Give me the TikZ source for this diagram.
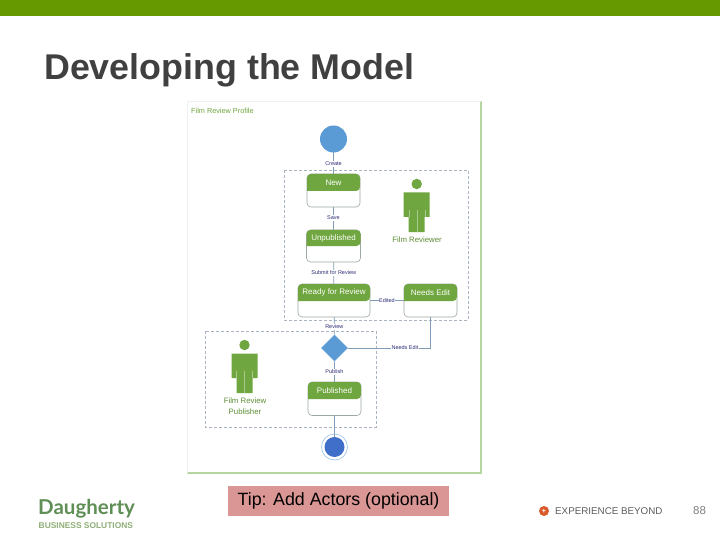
\documentclass[tikz,border=0pt]{standalone}
\usepackage{fontspec}
\setmainfont{Liberation Sans}
\newfontfamily\lato{Lato}
\usetikzlibrary{shapes.geometric}
\definecolor{topbar}{HTML}{669900}
\definecolor{titlegrey}{HTML}{404040}
\definecolor{framegreen}{HTML}{B5D6A0}
\definecolor{stategreen}{HTML}{6FA63F}
\definecolor{stateedge}{HTML}{9DA8A0}
\definecolor{blue1}{HTML}{5B9BD5}
\definecolor{blue2}{HTML}{3F6FC8}
\definecolor{conn}{HTML}{7F9DB8}
\definecolor{dashc}{HTML}{A9B4C0}
\definecolor{tipfill}{HTML}{D99694}
\definecolor{logogreen}{HTML}{5F8F55}
\definecolor{logolight}{HTML}{8FAF78}
\definecolor{orangec}{HTML}{D95B2B}
\tikzset{
  x=1pt,y=-1pt,
  conn/.style={draw=conn,line width=0.7pt},
  swim/.style={draw=dashc,line width=0.8pt,dash pattern=on 3pt off 2pt},
  clabel/.style={fill=white,inner sep=0.6pt,font=\fontsize{5.5}{6}\selectfont,text=titlegrey!70!blue},
  hdr/.style={text=white,font=\fontsize{8}{9}\selectfont,inner sep=0pt},
  actorlabel/.style={text=stategreen!85!black,font=\fontsize{7.8}{11}\selectfont,align=center,inner sep=0pt},
}
\newcommand{\statebox}[7]{% name, x1,y1,x2,y2,yh,text
  \node[inner sep=0pt,minimum width=#4pt-#2pt,minimum height=#5pt-#3pt,anchor=north west] (#1) at (#2,#3) {};
  \draw[stateedge,line width=0.6pt,fill=white,rounded corners=4pt] (#2,#3) rectangle (#4,#5);
  \fill[stategreen,rounded corners=4pt] (#2,#6) -- (#2,#3) -- (#4,#3) -- (#4,#6) [sharp corners] -- cycle;
  \node[hdr] at ({(#2+#4)/2},{(#3+#6)/2}) {#7};
}
\newcommand{\actorfig}[2]{% head centre x, head centre y
  \begin{scope}[shift={(#1,#2)}]
    \fill[stategreen] (0,0) circle (5.2);
    \fill[stategreen] (-13,8.5) -- (13,8.5) -- (13,33) -- (8,33) -- (8,48) -- (-8,48) -- (-8,33) -- (-13,33) -- cycle;
    \draw[white!40!stategreen,line width=0.3pt] (0,26) -- (0,48) (-8,26) -- (-8,33) (8,26) -- (8,33);
  \end{scope}
}
\begin{document}
\begin{tikzpicture}
\useasboundingbox (0,0) rectangle (720,540);
\fill[white] (0,0) rectangle (720,540);
\fill[topbar] (0,0) rectangle (720,16.5);
\node[anchor=base west,inner sep=0pt,text=titlegrey,font=\fontsize{35.8}{38}\selectfont\bfseries] (title) at (44,79.5) {Developing the Model};

% frame
\draw[framegreen,line width=1.2pt] (481,101) -- (481,473) -- (187,473);
\draw[black!6,line width=0.5pt] (187,473) -- (187,101) -- (481,101);
\node[anchor=base west,inner sep=0pt,text=stategreen,font=\fontsize{7.3}{8}\selectfont] (ptitle) at (191,113.5) {Film Review Profile};

% swimlanes
\draw[swim] (284,170) rectangle (468,320);
\draw[swim] (205,331) rectangle (376,427);

% connectors first
\coordinate (sc) at (333.5,139);
\coordinate (nc) at (333.5,190);
\coordinate (uc) at (333.5,246);
\coordinate (rc) at (334,300);
\coordinate (dc) at (334.5,348);
\coordinate (pc) at (334.5,398);
\coordinate (ec) at (334.5,447);
\coordinate (mc) at (430.5,348);
\coordinate (ne) at (430.5,317);
\draw[conn] (sc) -- (nc) node[clabel,pos=0.49] (l1) {Create};
\draw[conn] (nc) -- (uc) node[clabel,pos=0.5] (l2) {Save};
\draw[conn] (uc) -- (rc) node[clabel,pos=0.5] (l3) {Submit for Review};
\draw[conn] (rc) -- (dc) node[clabel,pos=0.56] (l4) {Review};
\draw[conn] (dc) -- (pc) node[clabel,pos=0.48] (l5) {Publish};
\draw[conn] (pc) -- (ec);
\draw[conn] (dc) -- (mc) -- (ne);
\node[clabel] (l6) at (405,348) {Needs Edit};
\draw[conn] (370,300.5) -- (404,300.5);
\node[clabel] (l7) at (387,300.5) {Edited};

% states
\statebox{new}{307}{174}{360}{207}{191}{New}
\statebox{unpub}{306.5}{230}{360.5}{262}{246}{Unpublished}
\statebox{ready}{298}{284}{370}{317}{301}{Ready for Review}
\statebox{needs}{404}{284}{457}{317}{301}{Needs Edit}
\statebox{publ}{308}{382}{361}{415.5}{399}{Published}

% start, decision, end
\node[circle,fill=blue1,minimum size=27pt,inner sep=0pt] (start) at (333.5,139) {};
\node[diamond,aspect=1,fill=blue1,draw=white!60!blue1,line width=0.4pt,minimum size=27pt,inner sep=0pt] (dec) at (334.5,348) {};
\node[circle,draw=blue1!70,line width=0.5pt,minimum size=26pt,inner sep=0pt] (endo) at (334.5,447) {};
\node[circle,fill=blue2,minimum size=20pt,inner sep=0pt] (endi) at (334.5,447) {};

% actors
\actorfig{416.7}{184}
\node[actorlabel] (a1) at (417,240) {Film Reviewer};
\actorfig{244.5}{345}
\node[actorlabel] (a2) at (245,406) {Film Review\\Publisher};

% tip
\node[fill=tipfill,minimum width=221pt,minimum height=30pt,inner sep=0pt,font=\fontsize{17.8}{20}\selectfont,text=black] (tip) at (338.5,501) {Tip: Add Actors (optional)};

% logos
\node[anchor=base west,inner sep=0pt,text=logogreen,font=\lato\fontsize{20.5}{24}\selectfont\bfseries] (dau) at (38,514.5) {Daugherty};
\node[anchor=base west,inner sep=0pt,text=logolight,font=\fontsize{8.4}{9}\selectfont\bfseries] (bus) at (38.5,528) {BUSINESS SOLUTIONS};
\node[circle,fill=orangec,minimum size=10pt,inner sep=0pt,text=white,font=\fontsize{7}{7}\selectfont\bfseries] (plus) at (544,511) {+};
\node[anchor=base west,inner sep=0pt,text=titlegrey!85,font=\fontsize{9.8}{12}\selectfont] (exp) at (555,514.5) {EXPERIENCE BEYOND};
\node[anchor=base,inner sep=0pt,text=black!50,font=\fontsize{11.5}{13}\selectfont] (num) at (699.5,514.5) {88};
\end{tikzpicture}
\end{document}
